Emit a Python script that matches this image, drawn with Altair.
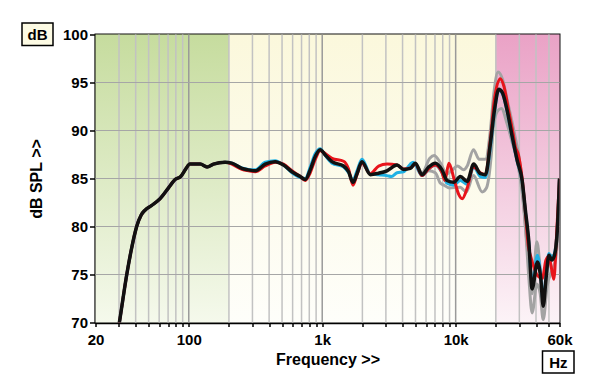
import altair as alt
import pandas as pd

# ---------------- data ----------------
black_f = [29, 30.2, 34.3, 37, 40.7, 44, 47, 52.8, 61, 70.3, 79, 87, 95, 102, 122, 137, 153, 187, 210, 250, 280, 315,
           374, 444, 513, 593, 684, 746, 813, 887, 966, 1054, 1183, 1446, 1576, 1700, 1822, 1986, 2292, 2646, 3058,
           3636, 4074, 4576, 4990, 5600, 6276, 7040, 7900, 8620, 9660, 10850, 12190, 13650, 15330, 16700, 18220,
           19520, 21020, 22300, 24300, 26500, 28900, 31500, 33300, 35300, 37400, 41000, 43500, 45300, 47500, 50000,
           52500, 55000, 57700, 60000]
black_db = [68.5, 70, 75, 77.5, 80, 81.2, 81.7, 82.2, 82.9, 84, 84.9, 85.2, 86.0, 86.5, 86.5, 86.2, 86.5, 86.7, 86.6,
            86.05, 85.9, 85.8, 86.5, 86.75, 86.4, 85.7, 85.2, 84.9, 85.9, 87.3, 88.0, 87.45, 86.75, 86.3, 85.7, 84.6,
            85.5, 86.75, 85.4, 85.55, 85.8, 86.4, 85.95, 86.05, 86.6, 85.4, 86.2, 86.6, 85.9, 84.8, 84.6, 85.2, 84.7,
            86.5, 85.5, 85.4, 88.7, 92.1, 94.3, 94.0, 92.1, 89.4, 86.9, 84.8, 81.7, 78.5, 73.5, 76.3, 74.5, 71.7,
            74.5, 77.0, 76.5, 77.0, 79.5, 85.0]

red_f = [29, 30.2, 34.3, 37, 40.7, 44, 47, 52.8, 61, 70.3, 79, 87, 95, 102, 122, 137, 153, 187, 210, 250, 280, 315,
         374, 444, 513, 593, 684, 746, 813, 887, 966, 1054, 1183, 1446, 1576, 1700, 1822, 1986, 2292, 2646, 3058,
         3636, 4074, 4576, 4990, 5600, 6276, 7040, 7900, 8300, 8900, 9700, 10500, 11200, 12200, 13600, 15300,
         16700, 18200, 19500, 21600, 23000, 25000, 27000, 28000, 29500, 31500, 33300, 35000, 36500, 38500, 41000,
         44600, 47500, 50000, 52000, 54400, 57000, 60000]
red_db = [68.5, 70, 75, 77.5, 80, 81.2, 81.7, 82.2, 82.9, 84, 84.9, 85.2, 86.0, 86.5, 86.5, 86.2, 86.5, 86.7, 86.5,
          85.95, 85.8, 85.7, 86.3, 86.7, 86.5, 85.8, 85.2, 84.8, 85.6, 87.0, 87.9, 87.6, 87.1, 86.8, 86.0, 84.3,
          85.4, 86.6, 85.5, 86.3, 86.5, 86.4, 86.0, 86.1, 86.5, 85.3, 86.0, 86.4, 85.6, 84.8, 86.6, 85.0, 83.4,
          82.9, 84.0, 86.2, 85.6, 85.4, 89.0, 93.2, 95.4, 94.6, 92.0, 89.6, 88.3, 87.5, 85.0, 81.5, 78.0, 76.9,
          75.8, 74.9, 74.6, 76.5, 76.9, 75.8, 74.5, 79.0, 85.0]

blue_f = [29, 30.2, 34.3, 37, 40.7, 44, 47, 52.8, 61, 70.3, 79, 87, 95, 102, 122, 137, 153, 187, 210, 250, 280, 315,
          374, 444, 513, 593, 684, 746, 813, 887, 966, 1054, 1183, 1446, 1576, 1700, 1822, 1986, 2292, 2646, 3058,
          3300, 3636, 4074, 4576, 4800, 5600, 6276, 7040, 7900, 8620, 9660, 10850, 12190, 13650, 15330, 16700,
          18220, 19520, 21020, 22300, 24300, 26500, 28900, 31500, 33300, 35300, 37400, 41000, 43500, 45300, 47500,
          50000, 52500, 55000, 57700, 60000]
blue_db = [68.5, 70, 75, 77.5, 80, 81.2, 81.7, 82.2, 82.9, 84, 84.9, 85.2, 86.0, 86.5, 86.5, 86.2, 86.5, 86.7, 86.6,
           86.1, 85.95, 85.9, 86.7, 86.85, 86.4, 85.6, 85.1, 85.0, 86.2, 87.6, 88.1, 87.4, 86.6, 86.2, 85.6, 84.8,
           85.8, 87.0, 85.5, 85.4, 85.3, 85.2, 85.6, 85.7, 86.5, 86.7, 85.3, 86.0, 86.4, 85.6, 84.5, 84.3, 84.8,
           84.4, 86.2, 85.2, 85.1, 88.3, 91.9, 94.2, 93.9, 92.0, 89.3, 86.8, 84.7, 81.6, 78.4, 74.0, 77.0, 74.8,
           72.0, 75.0, 77.2, 76.8, 77.2, 79.8, 85.0]

gray1_f = [4500, 5000, 5600, 6400, 6900, 7700, 8600, 9300, 10300, 11500, 12200, 13600, 15000, 16700, 18200, 19300,
           20800, 22500, 24300, 25700, 28500, 29800, 31500, 33300, 35300, 37400, 40600, 43000, 45000, 48500, 52000,
           55000, 58000, 60000]
gray1_db = [86.1, 86.5, 85.6, 87.1, 87.4, 86.6, 85.5, 85.8, 86.3, 85.9, 86.3, 88.0, 87.0, 87.0, 90.0, 93.8, 96.1,
            95.3, 93.2, 91.7, 88.7, 87.3, 84.5, 80.0, 76.5, 73.0, 78.4, 75.5, 72.0, 75.5, 77.0, 76.8, 80.0, 85.0]

gray2_f = [4500, 5000, 5600, 6276, 7040, 7700, 8200, 9000, 10800, 12000, 13600, 15800, 17000, 18500, 19200, 20500,
           22000, 24300, 26500, 28900, 31500, 33300, 35300, 37400, 40600, 43000, 45300, 48500, 52900, 56000, 58500,
           60000]
gray2_db = [86.0, 86.4, 85.3, 85.8, 85.6, 84.5, 84.3, 84.0, 84.1, 83.6, 85.3, 83.6, 84.0, 87.5, 90.4, 92.0, 92.3,
            90.7, 88.8, 86.9, 83.5, 80.0, 74.8, 71.0, 74.0, 73.0, 70.3, 73.8, 75.5, 76.5, 80.0, 85.0]

# background bands (Hz)
band_green = [20, 200]
band_yellow = [200, 20000]
band_pink = [20000, 60000]

# grid / tick values
minor_grid = [30, 40, 50, 60, 70, 80, 90, 200, 300, 400, 500, 600, 700, 800, 900,
              2000, 3000, 4000, 5000, 6000, 7000, 8000, 9000, 20000, 30000, 40000, 50000]
decade_grid = [100, 1000, 10000]
x_ticks = [20, 30, 40, 50, 60, 70, 80, 90, 100, 200, 300, 400, 500, 600, 700, 800, 900, 1000,
           2000, 3000, 4000, 5000, 6000, 7000, 8000, 9000, 10000, 20000, 30000, 40000, 50000, 60000]
x_labels = {20: "20", 100: "100", 1000: "1k", 10000: "10k", 60000: "60k"}
y_ticks = [70, 75, 80, 85, 90, 95, 100]
h_grid = [75, 80, 85, 90, 95]

# ---------------- chart ----------------
FONT = "Liberation Sans"
W, H = 464, 288

label_expr = " : ".join([f"datum.value == {k} ? '{v}'" for k, v in x_labels.items()]) + " : ''"

xscale = alt.Scale(type="log", domain=[20, 60000], nice=False)
yscale = alt.Scale(domain=[70, 100], nice=False, zero=False)

xaxis = alt.Axis(values=x_ticks, labelExpr=label_expr, title="Frequency >>", grid=False,
                 domainColor="#000", domainWidth=2.5, tickColor="#000", tickWidth=1.5, tickSize=4,
                 labelFont=FONT, labelFontSize=15, labelFontWeight="bold", labelColor="#000",
                 labelPadding=6, labelFlush=False, labelOverlap=False,
                 titleFont=FONT, titleFontSize=16, titleFontWeight="bold", titleColor="#000",
                 titleY=29, titleBaseline="top")
yaxis = alt.Axis(values=y_ticks, title="dB SPL >>", grid=False,
                 domainColor="#000", domainWidth=2.5, tickColor="#000", tickWidth=1.5, tickSize=6,
                 labelFont=FONT, labelFontSize=15, labelFontWeight="bold", labelColor="#000",
                 labelPadding=2, labelFlush=False,
                 titleFont=FONT, titleFontSize=16, titleFontWeight="bold", titleColor="#000",
                 titleX=-59, titleY=H / 2, titleBaseline="middle", titleAngle=270, titleAlign="center")


def X(field=None, **kw):
    return alt.X(field, type="quantitative", scale=xscale, axis=xaxis, **kw)


def Y(field=None, **kw):
    return alt.Y(field, type="quantitative", scale=yscale, axis=yaxis, **kw)


def grad(top, bottom):
    return {"gradient": "linear", "x1": 0, "y1": 0, "x2": 0, "y2": 1,
            "stops": [{"offset": 0, "color": top}, {"offset": 1, "color": bottom}]}


def band(rng, top, bottom):
    df = pd.DataFrame({"f0": [rng[0]], "f1": [rng[1]]})
    return alt.Chart(df).mark_rect(color=grad(top, bottom)).encode(
        x=X("f0"), x2="f1",
        y=alt.Y(datum=100, type="quantitative", scale=yscale, axis=yaxis),
        y2=alt.Y2(datum=70))


bg_green = band(band_green, "#c6dc9e", "#f5f9ec")
bg_yellow = band(band_yellow, "#fbf8dc", "#fefefa")
bg_pink = band(band_pink, "#eaa2c6", "#fcf3f7")

vgrid_minor = alt.Chart(pd.DataFrame({"f": minor_grid})).mark_rule(
    color="#c2c2c2", strokeWidth=1.5).encode(x=X("f"))
vgrid_major = alt.Chart(pd.DataFrame({"f": decade_grid})).mark_rule(
    color="#9a9a9a", strokeWidth=1.5).encode(x=X("f"))
hgrid = alt.Chart(pd.DataFrame({"v": h_grid})).mark_rule(
    color="#a6a6a6", strokeWidth=1.2).encode(y=Y("v"))


def curve(fs, dbs, color, width):
    df = pd.DataFrame({"f": fs, "db": dbs})
    return alt.Chart(df).mark_line(color=color, strokeWidth=width, interpolate="monotone",
                                   clip=True, strokeJoin="round").encode(x=X("f"), y=Y("db"))


c_gray1 = curve(gray1_f, gray1_db, "#a3a3a3", 3)
c_gray2 = curve(gray2_f, gray2_db, "#a3a3a3", 3)
c_blue = curve(blue_f, blue_db, "#1fb1e4", 3)
c_red = curve(red_f, red_db, "#e8141b", 3)
c_black = curve(black_f, black_db, "#111111", 3.5)

# unit boxes "dB" and "Hz"
box_df = pd.DataFrame({"t": ["dB"]})
db_box = alt.Chart(box_df).mark_rect(fill="#fdfbe4", stroke="#000", strokeWidth=1.5).encode(
    x=alt.value(-73.5), x2=alt.value(-42.5), y=alt.value(-11.5), y2=alt.value(11))
db_txt = alt.Chart(box_df).mark_text(font=FONT, fontSize=15, fontWeight="bold", color="#000").encode(
    x=alt.value(-58), y=alt.value(0.5), text="t:N")
hz_df = pd.DataFrame({"t": ["Hz"]})
hz_box = alt.Chart(hz_df).mark_rect(fill="#ffffff", stroke="#000", strokeWidth=1.5).encode(
    x=alt.value(447), x2=alt.value(478.5), y=alt.value(316.5), y2=alt.value(338.5))
hz_txt = alt.Chart(hz_df).mark_text(font=FONT, fontSize=15, fontWeight="bold", color="#000").encode(
    x=alt.value(462.8), y=alt.value(328), text="t:N")

chart = alt.layer(
    bg_green, bg_yellow, bg_pink, vgrid_minor, vgrid_major, hgrid,
    c_gray1, c_gray2, c_blue, c_red, c_black,
    db_box, db_txt, hz_box, hz_txt,
).properties(
    width=W, height=H, autosize="none",
    padding={"left": 87.5, "top": 26.5, "right": 30, "bottom": 55},
    background="#ffffff",
).configure_view(stroke="#111", strokeWidth=2)

chart.save("out.html", embed_options={"renderer": "svg", "actions": False})
